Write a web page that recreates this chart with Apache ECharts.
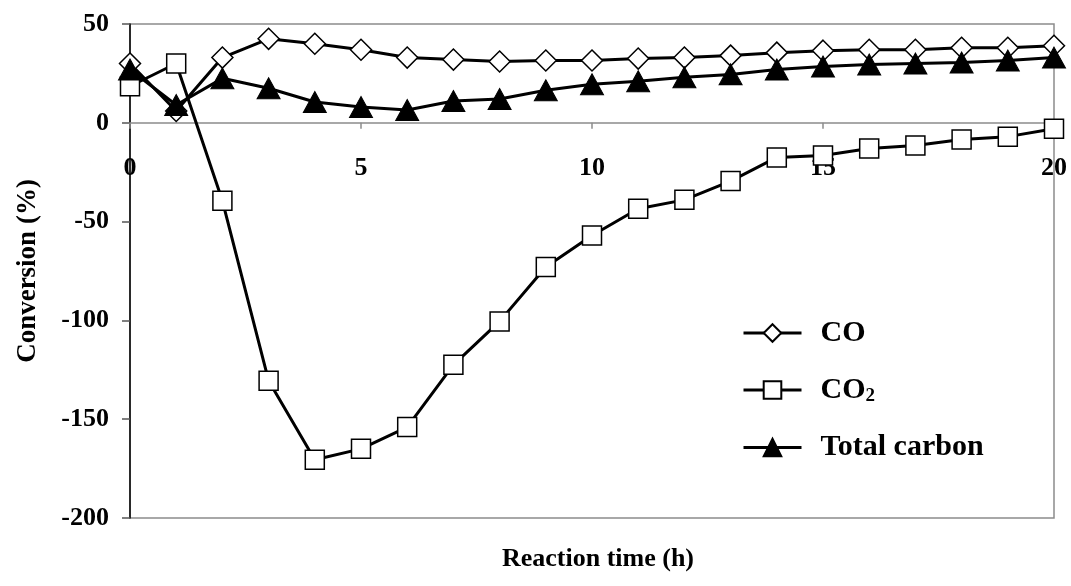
<!DOCTYPE html>
<html>
<head>
<meta charset="utf-8">
<script src="https://cdn.jsdelivr.net/npm/echarts@6/dist/echarts.min.js"></script>
<style>html,body{margin:0;padding:0;background:#fff;}#c{width:1071px;height:586px;}</style>
</head>
<body>
<div id="c"></div>
<script>
var hours = [0,1,2,3,4,5,6,7,8,9,10,11,12,13,14,15,16,17,18,19,20];
var coValues = [30,6,33,42.5,40,37,33,32,31,31.5,31.5,32.5,33,34,35.5,36.5,37,37,38,38,39];
var co2Values = [18.5,30,-39.5,-130.5,-170.5,-165,-154,-122.5,-100.5,-73,-57,-43.5,-39,-29.5,-17.5,-16.5,-13,-11.5,-8.5,-7,-3];
var totalValues = [27,9,22.5,17.5,10.5,8,6.5,11,12,16.5,19.5,21,23,24.5,27,28.5,29.5,30,30.5,31.5,33];
var xTicks = [0,5,10,15,20];
var yTicks = [-200,-150,-100,-50,0,50];

function pairs(v){ return hours.map(function(h,i){ return [h, v[i]]; }); }
var font = 'Liberation Serif';
var chart = echarts.init(document.getElementById('c'));
var gridTop = 24, gridBottom = 68, H = 586;
var plotH = H - gridTop - gridBottom;
var yMin = -200, yMax = 50;
// distance from bottom edge of plot up to y = 0
var zeroOffset = -plotH * (0 - yMin) / (yMax - yMin);
chart.setOption({
  animation: false,
  backgroundColor: '#fff',
  grid: {left:130, right:17, top:gridTop, bottom:gridBottom, show:true, borderColor:'#8c8c8c', borderWidth:1.5},
  title: {text:'Reaction time (h)', left:593, top:541, textAlign:'center',
    textStyle:{fontFamily:font, fontWeight:'bold', fontSize:26, color:'#000'}},
  legend: {
    orient:'vertical', left:737, top:313, itemGap:27, itemWidth:58, itemHeight:22,
    lineStyle:{width:3, color:'#000'},
    textStyle:{fontFamily:font, fontWeight:'bold', fontSize:30, color:'#000', padding:[0,0,0,14],
      rich:{a:{fontFamily:font, fontWeight:'bold', fontSize:30, color:'#000'},
            s:{fontFamily:font, fontWeight:'bold', fontSize:19, color:'#000', verticalAlign:'bottom', padding:[12,0,0,0]}}},
    formatter:function(n){ return n==='CO2' ? '{a|CO}{s|2}' : n; },
    data:['CO','CO2','Total carbon']
  },
  xAxis: {
    type:'value', min:0, max:20, interval:5, position:'bottom', offset: zeroOffset,
    axisLine:{show:true, onZero:false, lineStyle:{color:'#8c8c8c', width:1.5}},
    axisTick:{show:true, inside:false, length:6, lineStyle:{color:'#8c8c8c', width:1.5}},
    axisLabel:{margin:32, fontFamily:font, fontWeight:'bold', fontSize:26, color:'#000'},
    splitLine:{show:false}
  },
  yAxis: {
    type:'value', min:yMin, max:yMax, interval:50,
    name:'Conversion (%)', nameLocation:'middle', nameGap:88, nameRotate:90,
    nameTextStyle:{fontFamily:font, fontWeight:'bold', fontSize:27, color:'#000'},
    axisLine:{show:true, onZero:false, lineStyle:{color:'#000', width:1.5}},
    axisTick:{show:true, length:8, lineStyle:{color:'#555', width:1.5}},
    axisLabel:{margin:21, fontFamily:font, fontWeight:'bold', fontSize:26, color:'#000'},
    splitLine:{show:false}
  },
  series: [
    {name:'CO', type:'line', data:pairs(coValues), symbol:'diamond', symbolSize:[21,21], z:3,
     lineStyle:{color:'#000', width:3}, itemStyle:{color:'#fff', borderColor:'#000', borderWidth:1.5}},
    {name:'CO2', type:'line', data:pairs(co2Values), symbol:'rect', symbolSize:[19,19], z:2,
     lineStyle:{color:'#000', width:3}, itemStyle:{color:'#fff', borderColor:'#000', borderWidth:1.5}},
    {name:'Total carbon', type:'line', data:pairs(totalValues), symbol:'triangle', symbolSize:[23,21], z:4,
     lineStyle:{color:'#000', width:3}, itemStyle:{color:'#000', borderColor:'#000', borderWidth:1}}
  ]
});
</script>
</body>
</html>
